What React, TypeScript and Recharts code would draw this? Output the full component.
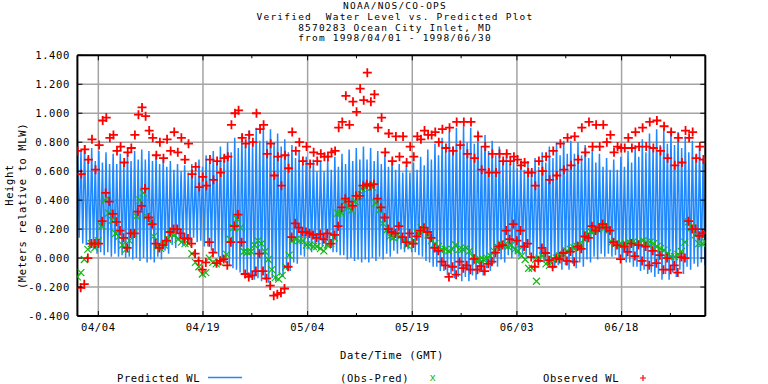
import { CartesianGrid, ComposedChart, Line, Scatter, XAxis, YAxis } from 'recharts'

const FONT = '"DejaVu Sans Mono", "Liberation Mono", monospace'
const FS = 10.5
const LS = 0.6

const titleLines = [
  'NOAA/NOS/CO-OPS',
  'Verified  Water Level vs. Predicted Plot',
  '8570283 Ocean City Inlet, MD',
  'from 1998/04/01 - 1998/06/30',
]

// days since 1998/04/01 00:00 GMT
const majorDays = [3, 18, 33, 48, 63, 78]
const majorLabels = ['04/04', '04/19', '05/04', '05/19', '06/03', '06/18']
const minorDays = [10, 25, 40, 55, 70, 85]
const heightTicks = [-0.4, -0.2, 0, 0.2, 0.4, 0.6, 0.8, 1.0, 1.2, 1.4]

const TIDE_STEP = 0.5125 // one tidal cycle, in days
const RESID_STEP = 0.4975

// predicted high / low water, one value per tide
const predHigh = [
  0.82, 0.74, 0.78, 0.70, 0.76, 0.67, 0.74, 0.66, 0.73, 0.65,
  0.72, 0.65, 0.72, 0.66, 0.73, 0.67, 0.74, 0.68, 0.75, 0.68,
  0.74, 0.67, 0.72, 0.65, 0.69, 0.63, 0.67, 0.61, 0.65, 0.60,
  0.64, 0.59, 0.65, 0.60, 0.68, 0.63, 0.71, 0.66, 0.74, 0.68,
  0.77, 0.70, 0.80, 0.73, 0.83, 0.76, 0.86, 0.78, 0.88, 0.80,
  0.90, 0.81, 0.90, 0.81, 0.89, 0.80, 0.86, 0.77, 0.82, 0.73,
  0.78, 0.69, 0.74, 0.65, 0.70, 0.62, 0.68, 0.60, 0.67, 0.60,
  0.68, 0.61, 0.70, 0.63, 0.72, 0.65, 0.75, 0.67, 0.76, 0.68,
  0.77, 0.68, 0.76, 0.67, 0.74, 0.65, 0.71, 0.63, 0.68, 0.61,
  0.65, 0.59, 0.64, 0.59, 0.66, 0.61, 0.70, 0.64, 0.75, 0.68,
  0.79, 0.71, 0.83, 0.74, 0.87, 0.77, 0.90, 0.79, 0.91, 0.80,
  0.90, 0.79, 0.88, 0.77, 0.85, 0.74, 0.81, 0.71, 0.77, 0.68,
  0.73, 0.65, 0.69, 0.62, 0.67, 0.61, 0.67, 0.61, 0.69, 0.63,
  0.73, 0.66, 0.77, 0.69, 0.80, 0.71, 0.81, 0.72, 0.81, 0.72,
  0.80, 0.71, 0.78, 0.69, 0.75, 0.66, 0.72, 0.63, 0.69, 0.61,
  0.68, 0.61, 0.70, 0.63, 0.74, 0.66, 0.78, 0.70, 0.82, 0.73,
  0.86, 0.76, 0.89, 0.78, 0.90, 0.79, 0.89, 0.78, 0.87, 0.76,
  0.84, 0.73, 0.81, 0.71, 0.78, 0.69,
]
const predLow = [
  0.14, 0.10, 0.09, 0.06, 0.06, 0.03, 0.04, 0.02, 0.04, 0.01,
  0.03, 0.01, 0.02, 0.00, 0.01, -0.01, 0.00, -0.02, 0.00, -0.03,
  -0.01, -0.03, 0.01, -0.01, 0.05, 0.03, 0.09, 0.07, 0.12, 0.09,
  0.14, 0.11, 0.14, 0.11, 0.12, 0.08, 0.08, 0.05, 0.04, 0.01,
  -0.01, -0.03, -0.05, -0.07, -0.08, -0.10, -0.11, -0.13, -0.13, -0.15,
  -0.14, -0.16, -0.15, -0.17, -0.14, -0.16, -0.12, -0.13, -0.08, -0.09,
  -0.03, -0.04, 0.02, 0.01, 0.06, 0.04, 0.08, 0.06, 0.08, 0.06,
  0.07, 0.04, 0.04, 0.02, 0.02, -0.01, 0.00, -0.02, -0.01, -0.03,
  -0.01, -0.03, 0.00, -0.02, 0.01, -0.01, 0.03, 0.01, 0.05, 0.03,
  0.06, 0.04, 0.06, 0.04, 0.04, 0.02, 0.01, -0.02, -0.03, -0.06,
  -0.06, -0.09, -0.09, -0.12, -0.11, -0.14, -0.13, -0.16, -0.13, -0.16,
  -0.12, -0.15, -0.10, -0.12, -0.07, -0.09, -0.04, -0.06, -0.01, -0.03,
  0.02, 0.00, 0.03, 0.01, 0.03, 0.01, 0.02, -0.01, 0.00, -0.03,
  -0.03, -0.05, -0.04, -0.07, -0.05, -0.08, -0.05, -0.08, -0.04, -0.07,
  -0.03, -0.06, -0.01, -0.03, 0.01, -0.01, 0.03, 0.01, 0.03, 0.01,
  0.02, 0.00, 0.00, -0.03, -0.03, -0.06, -0.06, -0.09, -0.08, -0.11,
  -0.10, -0.13, -0.11, -0.15, -0.11, -0.15, -0.10, -0.13, -0.08, -0.11,
  -0.06, -0.08, -0.04, -0.06, -0.03, -0.05,
]

// observed high / low water, one value per tide
const obsHigh = [
  0.74, 0.58, 0.75, 0.68, 0.82, 0.61, 0.78, 0.95, 0.97, 0.83, 0.85, 0.74, 0.77, 0.66, 0.73, 0.76,
  0.85, 0.99, 1.04, 0.98, 0.88, 0.83, 0.71, 0.80, 0.69, 0.82, 0.74, 0.87, 0.73, 0.83, 0.68, 0.79,
  0.58, 0.63, 0.49, 0.56, 0.50, 0.68, 0.54, 0.67, 0.59, 0.69, 0.70, 0.92, 1.00, 1.02,
  0.83, 0.79, 0.85, 0.80, 1.00, 0.89, 0.92, 0.72, 0.79, 0.57, 0.70, 0.50, 0.71, 0.62, 0.87, 0.74,
  0.80, 0.67, 0.77, 0.65, 0.73, 0.67, 0.72, 0.70, 0.70, 0.73, 0.74, 0.90, 0.94, 1.12, 0.92, 1.08,
  1.01, 1.17, 1.09, 1.28, 1.08, 1.13, 0.90, 0.97, 0.73, 0.86, 0.67, 0.84, 0.70, 0.84, 0.66, 0.77,
  0.70, 0.84, 0.82, 0.88, 0.85, 0.85, 0.87, 0.80, 0.89, 0.76, 0.90, 0.74, 0.94, 0.78, 0.94, 0.72,
  0.94, 0.69, 0.84, 0.61, 0.77, 0.59, 0.72, 0.59, 0.72, 0.67, 0.72, 0.67, 0.70, 0.68, 0.64, 0.66,
  0.59, 0.59, 0.50, 0.67, 0.60, 0.70, 0.54, 0.74, 0.57, 0.79, 0.61, 0.83, 0.64, 0.84, 0.68,
  0.90, 0.73, 0.94, 0.77, 0.92, 0.77, 0.92, 0.80, 0.85, 0.73, 0.77, 0.76, 0.76, 0.83, 0.76, 0.87,
  0.77, 0.90, 0.77, 0.94, 0.76, 0.95, 0.74, 0.91, 0.69, 0.87, 0.64, 0.83, 0.66, 0.88, 0.83, 0.87,
  0.69, 0.77, 0.68,
]
const obsLow = [
  -0.205, -0.18, 0.0, 0.10, 0.10, 0.10, 0.255, 0.45, 0.39, 0.305, 0.25, 0.19, 0.14, 0.07, 0.17,
  0.17, 0.32, 0.36, 0.48, 0.28, 0.235, 0.10, 0.07, 0.09, 0.12, 0.18, 0.20, 0.20, 0.17, 0.135,
  0.135, 0.10, 0.03, -0.02, -0.08, -0.03, 0.11, 0.037, -0.035, -0.02, -0.007, -0.05, 0.11, 0.22, 0.30,
  0.11, -0.11, -0.13, -0.12, -0.09, 0.03, -0.09, -0.14, -0.19, -0.26, -0.25, -0.24, -0.21, -0.06,
  0.145, 0.24, 0.21, 0.18, 0.18, 0.17, 0.16, 0.14, 0.165, 0.13, 0.17, 0.10, 0.16, 0.22, 0.35,
  0.41, 0.39, 0.36, 0.43, 0.43, 0.50, 0.51, 0.50, 0.51, 0.41, 0.35, 0.28, 0.20, 0.18, 0.17, 0.22,
  0.145, 0.11, 0.17,
  0.10, 0.15, 0.19, 0.21, 0.18, 0.14, 0.07, 0.05, -0.025, -0.05, -0.13, -0.06, -0.115, -0.025,
  -0.07, -0.05, -0.08, -0.005, -0.08, -0.055, -0.09, -0.04, -0.025, 0.037, 0.08, 0.09, 0.19, 0.13,
  0.235, 0.12, 0.19, 0.08, 0.10, 0.007, -0.06, -0.02, 0.07, 0.035, -0.015, -0.06, 0.0, -0.007,
  0.035, -0.02, 0.045, -0.025, 0.08,
  0.064, 0.15, 0.14, 0.22, 0.19, 0.21, 0.235, 0.21, 0.19, 0.11, 0.09, -0.007, 0.08, 0.043, 0.10,
  0.014, 0.09, -0.02, 0.08, -0.05, 0.05, -0.035, 0.02, -0.08, 0.0, -0.08, -0.05, -0.10, 0.007,
  0.0, 0.255, 0.20, 0.20, 0.154, 0.17, 0.18,
]

// observed minus predicted, twice a day
const residual = [
  -0.13, -0.10, -0.01, 0.06, 0.10, 0.07, 0.12, 0.22, 0.40, 0.31,
  0.26, 0.17, 0.15, 0.09, 0.06, 0.12, 0.17, 0.29, 0.40, 0.45,
  0.29, 0.245, 0.15, 0.08, 0.065, 0.09, 0.13, 0.17, 0.16, 0.13,
  0.11, 0.10, 0.10, 0.03, -0.03, -0.06, -0.11, -0.10, 0.0, -0.03,
  -0.04, -0.03, -0.01, 0.025, 0.13, 0.21, 0.27, 0.21, 0.045, 0.04,
  0.045, 0.09, 0.12, 0.10, 0.045, -0.01, -0.08, -0.135, -0.145, -0.12,
  -0.06, 0.02, 0.12, 0.13, 0.12, 0.12, 0.09, 0.09, 0.08, 0.08,
  0.065, 0.05, 0.09, 0.10, 0.14, 0.31, 0.31, 0.39, 0.35, 0.33,
  0.39, 0.43, 0.48, 0.49, 0.50, 0.49, 0.38, 0.33, 0.24, 0.19,
  0.15, 0.14, 0.16, 0.15, 0.12, 0.09, 0.10, 0.12, 0.17, 0.21,
  0.19, 0.16, 0.12, 0.10, 0.08, 0.06, 0.06, 0.05, 0.06, 0.09,
  0.06, 0.06, 0.07, 0.05, 0.01, -0.02, -0.01, -0.01, 0.0, 0.015,
  0.05, 0.08, 0.10, 0.09, 0.08, 0.09, 0.06, 0.05, 0.015, -0.01,
  -0.07, -0.07, -0.01, 0.0, 0.015, -0.04, -0.05, -0.01, 0.0, 0.015,
  0.025, 0.05, 0.06, 0.07, 0.08, 0.09, 0.13, 0.165, 0.18, 0.19,
  0.20, 0.22, 0.21, 0.19, 0.11, 0.10, 0.09, 0.09, 0.10, 0.11,
  0.11, 0.10, 0.11, 0.12, 0.11, 0.11, 0.10, 0.08, 0.065, 0.055,
  0.035, 0.01, 0.01, 0.025, 0.045, 0.11, 0.25, 0.21, 0.16, 0.10,
  0.10, 0.11,
]
const outlierDays = [65.8]
const outlierValues = [-0.16]

const series = (start: number, step: number, values: number[]) =>
  values.map((v, i) => ({ t: start + i * step, v }))

const predData = [
  ...series(0, TIDE_STEP, predHigh),
  ...series(TIDE_STEP / 2, TIDE_STEP, predLow),
].sort((a, b) => a.t - b.t)
const obsData = [...series(0.04, TIDE_STEP, obsHigh), ...series(0.47, TIDE_STEP, obsLow)]
const residData = [
  ...series(0, RESID_STEP, residual),
  ...outlierDays.map((t, i) => ({ t, v: outlierValues[i] })),
]
const dayTicks = [...majorDays, ...minorDays].sort((a, b) => a - b)

const BLUE = '#1e88ff'
const RED = '#ff0000'
const GREEN = '#14b814'

const PlusMark = (p: any) => {
  const { cx, cy } = p
  if (cx == null || cy == null) return <g />
  return (
    <path
      d={`M${cx - 4.5},${cy}H${cx + 4.5}M${cx},${cy - 4.5}V${cy + 4.5}`}
      stroke={RED}
      strokeWidth={1.8}
      fill="none"
    />
  )
}

const CrossMark = (p: any) => {
  const { cx, cy } = p
  if (cx == null || cy == null) return <g />
  return (
    <path
      d={`M${cx - 3.5},${cy - 3.5}L${cx + 3.5},${cy + 3.5}M${cx - 3.5},${cy + 3.5}L${cx + 3.5},${cy - 3.5}`}
      stroke={GREEN}
      strokeWidth={1.2}
      fill="none"
    />
  )
}

const txt = { fontFamily: FONT, fontSize: FS, letterSpacing: LS, fill: '#000' }

const BottomTick = ({ x, y, payload }: any) => {
  const i = majorDays.indexOf(payload.value)
  return (
    <g>
      <line x1={x} x2={x} y1={y} y2={y - (i >= 0 ? 5 : 3)} stroke="#000" />
      {i >= 0 && (
        <text x={x} y={y + 11} textAnchor="middle" dominantBaseline="central" {...txt}>
          {majorLabels[i]}
        </text>
      )}
    </g>
  )
}

const TopTick = ({ x, y, payload }: any) => {
  const major = majorDays.includes(payload.value)
  return <line x1={x} x2={x} y1={y} y2={y + (major ? 5 : 3)} stroke="#000" />
}

const LeftTick = ({ x, y, payload }: any) => (
  <g>
    <line x1={x} x2={x + 5} y1={y} y2={y} stroke="#000" />
    <text x={x - 7.5} y={y} textAnchor="end" dominantBaseline="central" {...txt}>
      {Number(payload.value).toFixed(3)}
    </text>
  </g>
)

const RightTick = ({ x, y }: any) => <line x1={x} x2={x - 5} y1={y} y2={y} stroke="#000" />

export default function App() {
  return (
    <div style={{ position: 'absolute', left: 0, top: 0, width: 768, height: 384, background: '#fff' }}>
      <ComposedChart
        width={768}
        height={384}
        margin={{ top: 45.3, right: 52.7, bottom: 38, left: 17.4 }}
      >
        <CartesianGrid
          stroke="#a4a4a4"
          strokeWidth={1.5}
          verticalCoordinatesGenerator={({ xAxis, offset }: any) =>
            majorDays.map((d) =>
              typeof xAxis?.scale === 'function'
                ? xAxis.scale(d)
                : offset.left + (d / 90) * offset.width,
            )
          }
        />
        <XAxis
          dataKey="t"
          type="number"
          domain={[0, 90]}
          allowDataOverflow
          ticks={dayTicks}
          interval={0}
          height={30}
          tickSize={0}
          tickMargin={0}
          tickLine={false}
          axisLine={{ stroke: '#000', strokeWidth: 2 }}
          tick={(props: any) => <BottomTick {...props} />}
        />
        <XAxis
          xAxisId="top"
          orientation="top"
          dataKey="t"
          type="number"
          domain={[0, 90]}
          allowDataOverflow
          ticks={dayTicks}
          interval={0}
          height={10}
          tickSize={0}
          tickMargin={0}
          tickLine={false}
          axisLine={{ stroke: '#000', strokeWidth: 2 }}
          tick={(props: any) => <TopTick {...props} />}
        />
        <YAxis
          dataKey="v"
          type="number"
          domain={[-0.4, 1.4]}
          allowDataOverflow
          ticks={heightTicks}
          interval={0}
          width={60}
          tickSize={0}
          tickMargin={0}
          tickLine={false}
          axisLine={{ stroke: '#000', strokeWidth: 2 }}
          tick={(props: any) => <LeftTick {...props} />}
        />
        <YAxis
          yAxisId="right"
          orientation="right"
          dataKey="v"
          type="number"
          domain={[-0.4, 1.4]}
          allowDataOverflow
          ticks={heightTicks}
          interval={0}
          width={10}
          tickSize={0}
          tickMargin={0}
          tickLine={false}
          axisLine={{ stroke: '#000', strokeWidth: 2 }}
          tick={(props: any) => <RightTick {...props} />}
        />
        <Line
          data={predData}
          dataKey="v"
          type="linear"
          stroke={BLUE}
          strokeWidth={1.5}
          dot={false}
          activeDot={false}
          isAnimationActive={false}
        />
        <Scatter data={residData} dataKey="v" shape={CrossMark} isAnimationActive={false} />
        <Scatter data={obsData} dataKey="v" shape={PlusMark} isAnimationActive={false} />
      </ComposedChart>

      <svg width={768} height={384} style={{ position: 'absolute', left: 0, top: 0, pointerEvents: 'none' }}>
        {titleLines.map((line, i) => (
          <text key={line} x={395} y={5.5 + i * 10.8} textAnchor="middle" dominantBaseline="central"
            style={{ whiteSpace: 'pre' }} {...txt} fontSize={9.5} letterSpacing={1.2}>
            {line}
          </text>
        ))}
        <text x={9} y={185} textAnchor="middle" dominantBaseline="central"
          transform="rotate(-90 9 185)" {...txt}>
          Height
        </text>
        <text x={22} y={206} textAnchor="middle" dominantBaseline="central"
          transform="rotate(-90 22 206)" {...txt}>
          (Meters relative to MLW)
        </text>
        <text x={392} y={355} textAnchor="middle" dominantBaseline="central" {...txt}>
          Date/Time (GMT)
        </text>

        <text x={117} y={377.5} dominantBaseline="central" {...txt}>Predicted WL</text>
        <line x1={208} x2={242} y1={377.5} y2={377.5} stroke={BLUE} strokeWidth={1.5} />
        <text x={340} y={377.5} dominantBaseline="central" {...txt}>(Obs-Pred)</text>
        <text x={433} y={377} textAnchor="middle" dominantBaseline="central" {...txt} fill={GREEN}>x</text>
        <text x={543} y={377.5} dominantBaseline="central" {...txt}>Observed WL</text>
        <path d="M640,378H646M643,375V381" stroke={RED} strokeWidth={1.2} />
      </svg>
    </div>
  )
}
